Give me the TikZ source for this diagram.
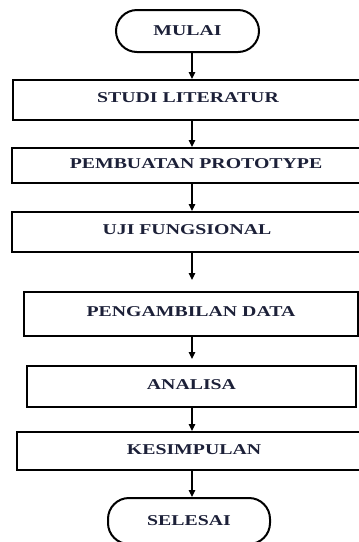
\documentclass[tikz,border=0pt]{standalone}
\usepackage{fontspec}
\setmainfont{Liberation Serif}[FakeStretch=1.32]
\usetikzlibrary{arrows.meta}
\definecolor{txt}{RGB}{28,32,56}
\begin{document}
\begin{tikzpicture}[x=1pt,y=-1pt,
  box/.style={draw=black,line width=2pt,rectangle,inner sep=0pt,
    font=\fontsize{15}{15}\selectfont\bfseries,text=txt},
  term/.style={box,rounded corners=21pt},
  arr/.style={draw=black,line width=1.2pt,-{Triangle[width=6.5pt,length=7pt]}}]
\useasboundingbox (0,0) rectangle (359,542);
\coordinate (axis) at (192,0);
\node[term,minimum width=143pt,minimum height=42pt] (mulai) at (187.5,31) {\raisebox{1pt}{MULAI}};
\node[box,minimum width=350pt,minimum height=40pt] (studi) at (188,100) {\raisebox{4pt}{STUDI LITERATUR}};
\node[box,minimum width=368pt,minimum height=35pt] (proto) at (196,165.5) {\raisebox{3.5pt}{PEMBUATAN PROTOTYPE}};
\node[box,minimum width=350pt,minimum height=40pt] (uji) at (187,232) {\raisebox{4pt}{UJI FUNGSIONAL}};
\node[box,minimum width=334pt,minimum height=44pt] (data) at (191,314) {\raisebox{4pt}{PENGAMBILAN DATA}};
\node[box,minimum width=329pt,minimum height=41pt] (analisa) at (191.5,386.5) {\raisebox{4pt}{ANALISA}};
\node[box,minimum width=354pt,minimum height=38pt] (simpul) at (194,451) {\raisebox{3pt}{KESIMPULAN}};
\node[term,minimum width=162pt,minimum height=46pt] (selesai) at (189,521) {\raisebox{0pt}{SELESAI}};
\draw[arr] (mulai.south -| axis) -- (studi.north -| axis);
\draw[arr] (studi.south -| axis) -- (proto.north -| axis);
\draw[arr] (proto.south -| axis) -- (uji.north -| axis);
\draw[arr,shorten >=11pt] (uji.south -| axis) -- (data.north -| axis);
\draw[arr,shorten >=6pt] (data.south -| axis) -- (analisa.north -| axis);
\draw[arr] (analisa.south -| axis) -- (simpul.north -| axis);
\draw[arr] (simpul.south -| axis) -- (selesai.north -| axis);
\end{tikzpicture}
\end{document}
